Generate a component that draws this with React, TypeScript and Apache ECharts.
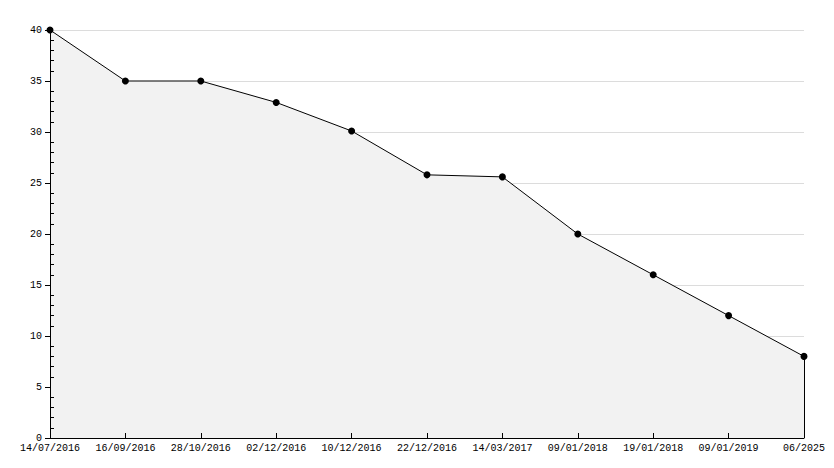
import React, { useEffect, useRef } from "react";
import * as echarts from "echarts";

const categories = [
  "14/07/2016", "16/09/2016", "28/10/2016", "02/12/2016", "10/12/2016",
  "22/12/2016", "14/03/2017", "09/01/2018", "19/01/2018", "09/01/2019", "06/2025",
];
const values = [40, 35, 35, 32.9, 30.1, 25.8, 25.6, 20, 16, 12, 8];
const yMin = 0;
const yMax = 40;
const yStep = 5;

const FONT = "Liberation Mono";

export default function App() {
  const ref = useRef<HTMLDivElement>(null);
  useEffect(() => {
    if (!ref.current) return;
    const chart = echarts.init(ref.current, undefined, { renderer: "svg" });
    const lastIdx = categories.length - 1;
    chart.setOption({
      animation: false,
      backgroundColor: "#ffffff",
      grid: { left: 50, right: 30, top: 30, bottom: 30, containLabel: false },
      xAxis: {
        type: "category",
        data: categories,
        boundaryGap: false,
        z: 10,
        axisLine: { show: true, lineStyle: { color: "#000", width: 1 } },
        axisTick: { show: true, inside: true, length: 5, lineStyle: { color: "#000" }, interval: 0 },
        axisLabel: { interval: 0, color: "#000", fontFamily: FONT, fontSize: 10, margin: 5 },
        splitLine: { show: false },
      },
      yAxis: [
        {
          type: "value",
          min: yMin,
          max: yMax,
          interval: yStep,
          position: "left",
          z: 0,
          axisLine: { show: false },
          axisTick: { show: true, inside: false, length: 5, lineStyle: { color: "#000" } },
          axisLabel: { color: "#000", fontFamily: FONT, fontSize: 10, margin: 8 },
          splitLine: { show: true, lineStyle: { color: "#dcdcdc", width: 1 } },
        },
        {
          type: "value",
          min: yMin,
          max: yMax,
          interval: yStep,
          position: "left",
          offset: 0,
          z: 10,
          axisLine: { show: true, lineStyle: { color: "#000", width: 1 } },
          axisTick: { show: false, inside: true },
          minorTick: { show: true, splitNumber: 5, length: 4, lineStyle: { color: "#000" } },
          axisLabel: { show: false },
          splitLine: { show: false },
        },
      ],
      series: [
        {
          type: "line",
          data: values,
          yAxisIndex: 0,
          z: 5,
          symbol: "circle",
          symbolSize: 7,
          itemStyle: { color: "#000" },
          lineStyle: { color: "#000", width: 1 },
          areaStyle: { color: "#f2f2f2", opacity: 1 },
          markLine: {
            silent: true,
            symbol: "none",
            label: { show: false },
            lineStyle: { color: "#000", width: 1, type: "solid" },
            data: [
              [
                { coord: [lastIdx, 0] },
                { coord: [lastIdx, values[lastIdx]] },
              ],
            ],
          },
        },
      ],
    });
    return () => chart.dispose();
  }, []);
  return (
    <div
      ref={ref}
      style={{ position: "fixed", left: 0, top: 0, width: 834, height: 468 }}
    />
  );
}
